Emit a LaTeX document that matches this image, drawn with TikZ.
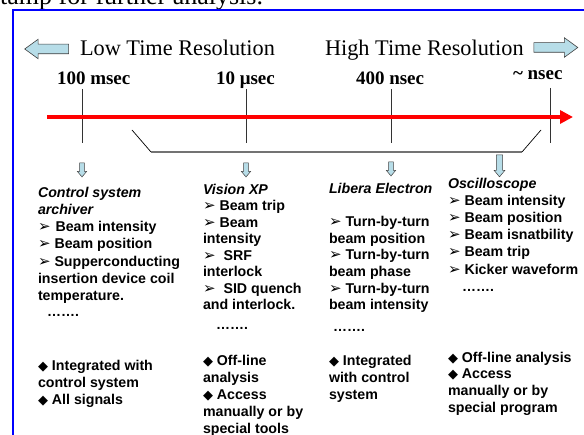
\documentclass[tikz,border=0pt]{standalone}
\usepackage{fontspec}
\setmainfont{Liberation Serif}
\newfontfamily\arialf{Liberation Sans}
\newfontfamily\symf{DejaVu Sans}
\usetikzlibrary{shapes.arrows,arrows.meta}
\definecolor{arrowblue}{RGB}{183,221,232}
\newcommand\tri{{\symf\fontsize{15}{12}\selectfont ➢}}
\newcommand\dia{{\symf\fontsize{13}{11.5}\selectfont ◆}}
\begin{document}
\begin{tikzpicture}[x=1pt,y=-1pt,
  every node/.style={inner sep=0pt,outer sep=0pt},
  txt/.style={anchor=north west, align=left, font=\arialf\bfseries\fontsize{14.2}{#1}\selectfont},
  dotline/.style={anchor=base west, font=\arialf\bfseries\fontsize{14}{17}\selectfont},
  ttl/.style={anchor=base west, font=\fontsize{22.3}{22.3}\selectfont},
  tm/.style={anchor=base west, font=\bfseries\fontsize{19}{19}\selectfont},
  blockarrow/.style={single arrow, draw=black!75, line width=0.6pt, fill=arrowblue,
    single arrow head extend=5pt, minimum height=44pt, minimum width=19pt,
    inner sep=4.5pt, single arrow tip angle=72},
  downarrow/.style={single arrow, draw=black!75, line width=0.5pt, fill=arrowblue,
    shape border rotate=270, single arrow head extend=2.2pt, minimum height=14pt,
    minimum width=9pt, inner sep=2.2pt, single arrow tip angle=80},
  tickline/.style={draw=black!80, line width=0.8pt},
  slant/.style={draw=black, line width=0.7pt},
  flat/.style={draw=black!55, line width=1.2pt}
]
\useasboundingbox (0,0) rectangle (584,435);
\clip (0,0) rectangle (584,435);

% caption fragment and frame
\node[anchor=base east, font=\fontsize{26}{26}\selectfont] (cap) at (263,5) {stamp for further analysis.};
\coordinate (f1) at (13,445);
\coordinate (f2) at (13,10);
\coordinate (f3) at (600,10);
\draw[blue, line width=2pt] (f1) -- (f2) -- (f3);

% top row
\node[blockarrow, shape border rotate=180] (la) at (50,49) {};
\node[ttl] (low) at (80,55.5) {Low Time Resolution};
\node[ttl] (high) at (325,55.5) {High Time Resolution};
\node[blockarrow] (ra) at (552.5,47.5) {};

\node[tm] (t100) at (57,85) {100 msec};
\node[tm] (t10) at (216,85) {10 μsec};
\node[tm] (t400) at (356,85) {400 nsec};
\node[tm] (tns) at (513,80) {\char`\~{} nsec};

% ticks
\coordinate (k1a) at (82,89);  \coordinate (k1b) at (82,143);
\coordinate (k2a) at (246,89); \coordinate (k2b) at (246,143);
\coordinate (k3a) at (391,89); \coordinate (k3b) at (391,143);
\coordinate (k4a) at (550,88); \coordinate (k4b) at (550,143);
\draw[tickline] (k1a) -- (k1b);
\draw[tickline] (k2a) -- (k2b);
\draw[tickline] (k3a) -- (k3b);
\draw[tickline] (k4a) -- (k4b);

% red time axis
\coordinate (rs) at (47,117);
\coordinate (re) at (573,117);
\draw[red, line width=4pt, -{Triangle[length=13pt,width=13pt]}] (rs) -- (re);

% bracket
\coordinate (b1) at (132,130);
\coordinate (b2) at (151,152);
\coordinate (b3) at (522,152);
\coordinate (b4) at (541,130);
\draw[slant] (b1) -- (b2);
\draw[flat] (b2) -- (b3);
\draw[slant] (b3) -- (b4);

% down arrows
\node[downarrow] (d1) at (82,168.5) {};
\node[downarrow] (d2) at (246,168.5) {};
\node[downarrow] (d3) at (391,167.5) {};
\node[downarrow, minimum height=22pt, minimum width=10.5pt, inner sep=2.8pt, single arrow head extend=2.4pt] (d4) at (499.5,164) {};

% column 1
\node[txt=17.3] (c1a) at (38,186.8) {\textit{Control system}\\\textit{archiver}\\
\tri\hspace{5pt}Beam intensity\\\tri{} Beam position\\\tri{} Supperconducting\\
insertion device coil\\temperature.};
\node[dotline] (c1d) at (47,317) {…….};
\node[txt=17] (c1b) at (38,359.8) {\dia{} Integrated with\\control system\\\dia{} All signals};

% column 2
\node[txt=16.5] (c2a) at (203,183.8) {\textit{Vision XP}\\\tri{} Beam trip\\\tri{} Beam\\intensity\\
\tri\hspace{8pt}SRF\\interlock\\\tri\hspace{8pt}SID quench\\and interlock.};
\node[dotline] (c2d) at (216,330) {…….};
\node[txt=17] (c2b) at (203,354.8) {\dia{} Off-line\\analysis\\\dia{} Access\\manually or by\\special tools};

% column 3
\node[txt=16.7] (c3a) at (329,182.8) {\textit{Libera Electron}\\~\\\tri{} Turn-by-turn\\beam position\\
\tri{} Turn-by-turn\\beam phase\\\tri{} Turn-by-turn\\beam intensity};
\node[dotline] (c3d) at (333,332) {…….};
\node[txt=17] (c3b) at (329,354.8) {\dia{} Integrated\\with control\\system};

% column 4
\node[txt=17.2] (c4a) at (448,177.8) {\textit{Oscilloscope}\\\tri{} Beam intensity\\\tri{} Beam position\\
\tri{} Beam isnatbility\\\tri{} Beam trip\\\tri{} Kicker waveform};
\node[dotline] (c4d) at (462,292) {…….};
\node[txt=16.7] (c4b) at (448,351.8) {\dia{} Off-line analysis\\\dia{} Access\\manually or by\\special program};
\end{tikzpicture}
\end{document}
